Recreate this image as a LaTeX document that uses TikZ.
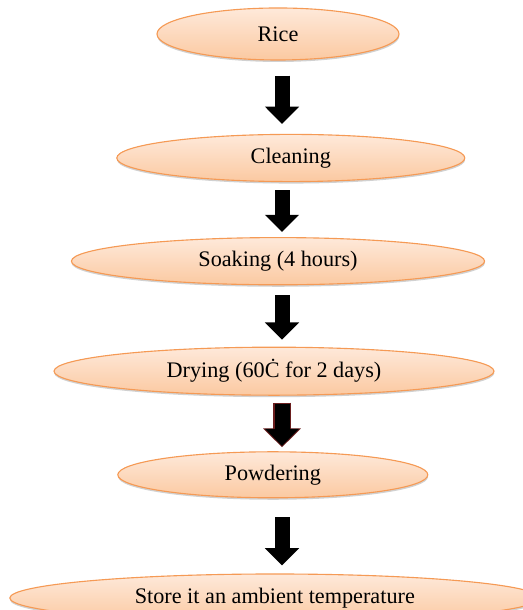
\documentclass[tikz,border=0pt]{standalone}
\usepackage{fontspec}
\setmainfont{Liberation Serif}
\usetikzlibrary{shapes.geometric,arrows.meta,shadows}
\definecolor{RPLine}{HTML}{F59A55}
\definecolor{RPTop}{HTML}{FEE9DA}
\definecolor{RPBottom}{HTML}{FBC9A1}
\definecolor{RPRed}{HTML}{6A1E1E}

\begin{document}
\begin{tikzpicture}[x=1cm,y=1cm,
  stage/.style={ellipse,draw=RPLine,line width=0.8pt,top color=RPTop,bottom color=RPBottom,
    inner sep=0pt,font=\fontsize{15.8}{18}\selectfont,
    drop shadow={shadow xshift=0.2pt,shadow yshift=-1.4pt,opacity=0.3,fill=black!60}},
  flow/.style={line width=0.375cm,-{Triangle[width=0.83cm,length=0.43cm]}},
  flowred/.style={RPRed,line width=0.43cm,-{Triangle[width=0.92cm,length=0.47cm]}}]
\path[use as bounding box] (0,0) rectangle (13.05,15.25);
\coordinate (axis) at (7.05,0);
% process steps
\node[stage,minimum width=6.05cm,minimum height=1.30cm] (rice) at (6.95,14.40) {Rice};
\node[stage,minimum width=8.70cm,minimum height=1.18cm] (clean) at (7.27,11.30) {Cleaning};
\node[stage,minimum width=10.33cm,minimum height=1.18cm] (soak) at (6.95,8.72) {Soaking (4 hours)};
\node[stage,minimum width=11.00cm,minimum height=1.20cm] (dry) at (6.85,5.97) {Drying (60Ċ for 2 days)};
\node[stage,minimum width=7.75cm,minimum height=1.15cm] (powder) at (6.82,3.38) {Powdering};
\node[stage,minimum width=13.25cm,minimum height=1.20cm] (store) at (6.87,0.30) {Store it an ambient temperature};
% arrows
\draw[flow,shorten <=0.375cm,shorten >=0.25cm] (rice.south -| axis) -- (clean.north -| axis);
\draw[flow,shorten <=0.2cm,shorten >=0.125cm] (clean.south -| axis) -- (soak.north -| axis);
\draw[flow,shorten <=0.25cm,shorten >=0.175cm] (soak.south -| axis) -- (dry.north -| axis);
\draw[flowred,shorten <=0.17cm,shorten >=0.1cm] (dry.south -| axis) -- (powder.north -| axis);
\draw[flow,shorten <=0.2cm,shorten >=0.13cm] (dry.south -| axis) -- (powder.north -| axis);
\draw[flow,shorten <=0.475cm,shorten >=0.2cm] (powder.south -| axis) -- (store.north -| axis);
\end{tikzpicture}
\end{document}
